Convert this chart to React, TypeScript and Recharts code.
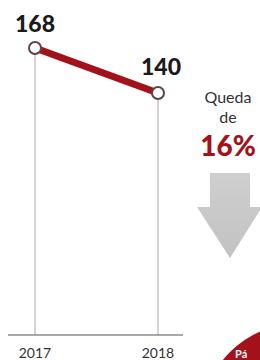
import { Customized, LabelList, Line, LineChart, ReferenceLine, XAxis, YAxis } from 'recharts';

const years = ['2017', '2018'];
const values = [168, 140];
const dropLabel = ['Queda', 'de'];
const dropPct = '16%';
const pageTag = 'Pá';

const Y_MIN = -10.6;
const data = years.map((year, i) => ({ year, value: values[i] }));

const ValueLabel = (props: any) => {
  const { x, y, value, index } = props;
  const dx = index === 0 ? 0 : 3;
  const dy = index === 0 ? -16 : -18;
  return (
    <text x={x + dx} y={y + dy} textAnchor="middle" fontFamily="Lato" fontWeight={900} fontSize={23} fill="#1a1a1a">
      {value}
    </text>
  );
};

const Dot = (props: any) => {
  const { cx, cy } = props;
  return <circle cx={cx} cy={cy} r={6} fill="#fff" stroke="#5a4646" strokeWidth={2} />;
};

const Extras = () => (
  <g>
    <circle cx={300} cy={422} r={99} fill="#a3121a" />
    <text x={235} y={358} fontFamily="Lato" fontWeight={700} fontSize={11} fill="#fff">{pageTag}</text>
    <defs>
      <linearGradient id="arrowFill" x1="0" y1="0" x2="0" y2="1">
        <stop offset="0%" stopColor="#cfcfcf" />
        <stop offset="100%" stopColor="#c2c2c2" />
      </linearGradient>
    </defs>
    <path d="M210,173 L250,173 L250,207 L262,207 L230,258 L197,207 L210,207 Z" fill="url(#arrowFill)" />
    <text x={228} y={103} textAnchor="middle" fontFamily="Lato" fontSize={16} fill="#333">{dropLabel[0]}</text>
    <text x={228} y={123} textAnchor="middle" fontFamily="Lato" fontSize={16} fill="#333">{dropLabel[1]}</text>
    <text x={228} y={156} textAnchor="middle" fontFamily="Lato" fontWeight={900} fontSize={28} fill="#a3121a">{dropPct}</text>
  </g>
);

export default function App() {
  return (
    <div style={{ position: 'absolute', left: 0, top: 0, width: 260, height: 360, background: '#fff' }}>
      <LineChart width={260} height={360} data={data} margin={{ top: 48, right: 77, bottom: 0, left: 8 }}>
        <YAxis hide domain={[Y_MIN, 168]} />
        <XAxis
          dataKey="year"
          height={25}
          padding={{ left: 27, right: 25 }}
          tickLine={false}
          axisLine={{ stroke: '#555', strokeWidth: 1 }}
          tick={{ fill: '#333', fontSize: 14, fontFamily: 'Lato' }}
          tickMargin={7}
        />
        {data.map((d) => (
          <ReferenceLine
            key={d.year}
            segment={[{ x: d.year, y: d.value }, { x: d.year, y: Y_MIN }]}
            stroke="#d4d4d4"
            strokeWidth={2}
          />
        ))}
        <Line
          dataKey="value"
          stroke="#a3121a"
          strokeWidth={7}
          dot={<Dot />}
          activeDot={false}
          isAnimationActive={false}
        >
          <LabelList dataKey="value" content={<ValueLabel />} />
        </Line>
        <Customized component={Extras} />
      </LineChart>
    </div>
  );
}
